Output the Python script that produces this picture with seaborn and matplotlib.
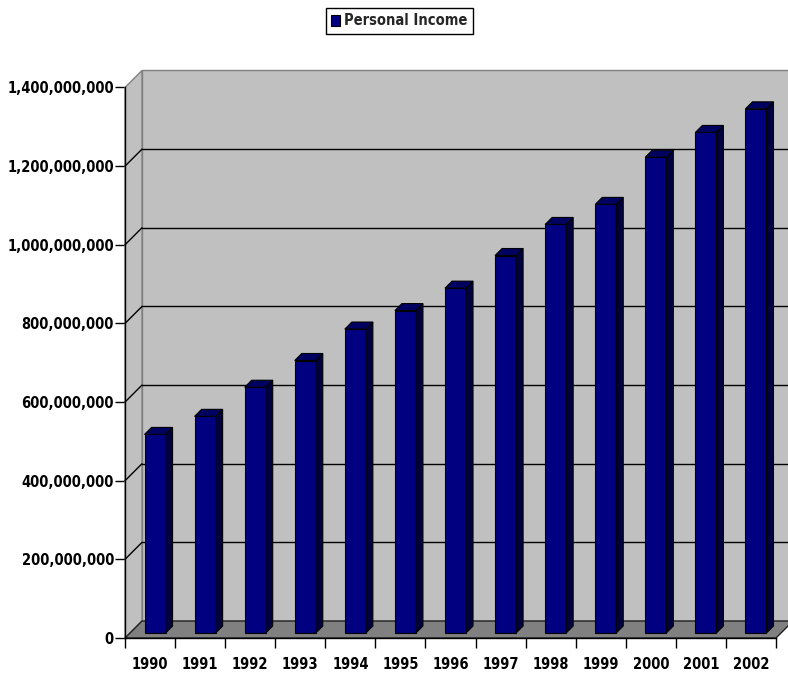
import numpy as np
import pandas as pd
import seaborn as sns
import matplotlib
matplotlib.use("Agg")
import matplotlib.pyplot as plt
from matplotlib.patches import Polygon, Patch
from matplotlib.lines import Line2D
from matplotlib.transforms import IdentityTransform, offset_copy
from matplotlib.font_manager import FontProperties
from matplotlib.ticker import FuncFormatter, FixedLocator

# ---- data ----
years = ["1990", "1991", "1992", "1993", "1994", "1995", "1996",
         "1997", "1998", "1999", "2000", "2001", "2002"]
income = [505e6, 551e6, 625e6, 693e6, 773e6, 820e6, 877e6,
          960e6, 1039e6, 1090e6, 1210e6, 1273e6, 1333e6]
y_ticks = [0, 200e6, 400e6, 600e6, 800e6, 1000e6, 1200e6, 1400e6]
series_name = "Personal Income"

# ---- style ----
sns.set_style("white")
plt.rcParams["font.family"] = ["DejaVu Sans"]
fp = FontProperties(family="DejaVu Sans", weight="bold", stretch="condensed", size=10.5)

W, H = 788, 675
fig = plt.figure(figsize=(W / 100, H / 100), dpi=100)
fig.patch.set_facecolor("white")
ax = fig.add_axes([125 / W, 37 / H, 651 / W, 550.5 / H])
ax.set_facecolor("none")

df = pd.DataFrame({"Year": years, "Income": income})
sns.barplot(data=df, x="Year", y="Income", color="#000080", saturation=1,
            width=0.42, edgecolor="black", linewidth=0.8, errorbar=None,
            ax=ax, zorder=5)
if ax.get_legend() is not None:
    ax.get_legend().remove()

ax.set_xlim(-0.5, len(years) - 0.5)
ax.set_ylim(y_ticks[0], y_ticks[-1])
ax.set_xlabel("")
ax.set_ylabel("")
ax.grid(False)

# depth (pixels)
D = 17.0
d1, d2 = 5.0, 12.0

td = ax.transData
fig.canvas.draw()

def P(x, y, d=0.0):
    p = td.transform((x, y))
    return (p[0] + d, p[1] + d)

ident = IdentityTransform()
x0, x1 = -0.5, len(years) - 0.5
ytop = y_ticks[-1]

# walls and floor
back = Polygon([P(x0, 0, D), P(x1, 0, D), P(x1, ytop, D), P(x0, ytop, D)],
               closed=True, facecolor="#C0C0C0", edgecolor="#808080", lw=1,
               transform=ident, clip_on=False, zorder=0.5)
left = Polygon([P(x0, 0), P(x0, 0, D), P(x0, ytop, D), P(x0, ytop)],
               closed=True, facecolor="#C0C0C0", edgecolor="#808080", lw=1,
               transform=ident, clip_on=False, zorder=0.6)
floor = Polygon([P(x0, 0), P(x1, 0), P(x1, 0, D), P(x0, 0, D)],
                closed=True, facecolor="#808080", edgecolor="#202020", lw=1,
                transform=ident, clip_on=False, zorder=0.7)
for poly in (back, left, floor):
    ax.add_patch(poly)

# gridlines on back and left walls
for v in y_ticks[1:-1]:
    a, b = P(x0, v, D), P(x1, v, D)
    ax.add_line(Line2D([a[0], b[0]], [a[1], b[1]], color="black", lw=1,
                       transform=ident, clip_on=False, zorder=1))
    c = P(x0, v)
    ax.add_line(Line2D([c[0], a[0]], [c[1], a[1]], color="black", lw=1,
                       transform=ident, clip_on=False, zorder=1))

# 3D bars: shift fronts, add side and top faces
front_tr = offset_copy(td, fig=fig, x=d1, y=d1, units="dots")
for bar in list(ax.patches):
    if bar in (back, left, floor):
        continue
    bx, bw, bh = bar.get_x(), bar.get_width(), bar.get_height()
    bar.set_transform(front_tr)
    bar.set_clip_on(False)
    side = Polygon([P(bx + bw, 0, d1), P(bx + bw, bh, d1),
                    P(bx + bw, bh, d2), P(bx + bw, 0, d2)],
                   closed=True, facecolor="#000040", edgecolor="black", lw=0.8,
                   transform=ident, clip_on=False, zorder=5)
    top = Polygon([P(bx, bh, d1), P(bx + bw, bh, d1),
                   P(bx + bw, bh, d2), P(bx, bh, d2)],
                  closed=True, facecolor="#000060", edgecolor="black", lw=0.8,
                  transform=ident, clip_on=False, zorder=5)
    ax.add_patch(side)
    ax.add_patch(top)

# spines
for s in ("top", "right"):
    ax.spines[s].set_visible(False)
for s in ("left", "bottom"):
    ax.spines[s].set_color("black")
    ax.spines[s].set_linewidth(1)
    ax.spines[s].set_zorder(2)

# ticks
ax.yaxis.set_major_locator(FixedLocator(y_ticks))
ax.yaxis.set_major_formatter(FuncFormatter(lambda v, _: f"{int(round(v)):,}"))
ax.tick_params(axis="y", which="major", left=True, direction="out",
               length=7, width=1, color="black", pad=1)
ax.set_xticks(range(len(years)))
ax.set_xticklabels(years)
ax.set_xticks(np.arange(-0.5, len(years), 1.0), minor=True)
ax.tick_params(axis="x", which="major", bottom=True, length=0, pad=13.5)
ax.tick_params(axis="x", which="minor", bottom=True, direction="out",
               length=7.2, width=1, color="black")
for lbl in ax.get_xticklabels() + ax.get_yticklabels():
    lbl.set_fontproperties(fp)
    lbl.set_color("black")

# legend
handle = Patch(facecolor="#000080", edgecolor="black", lw=0.8)
leg = fig.legend(handles=[handle], labels=[series_name], loc="upper center",
                 bbox_to_anchor=(399 / W, 1 - 1 / H), prop=fp, frameon=True,
                 fancybox=False, edgecolor="black", framealpha=1,
                 handlelength=0.62, handleheight=0.75, handletextpad=0.3,
                 borderpad=0.35)
leg.get_frame().set_linewidth(1.0)

fig.savefig("out.png", dpi=100)
